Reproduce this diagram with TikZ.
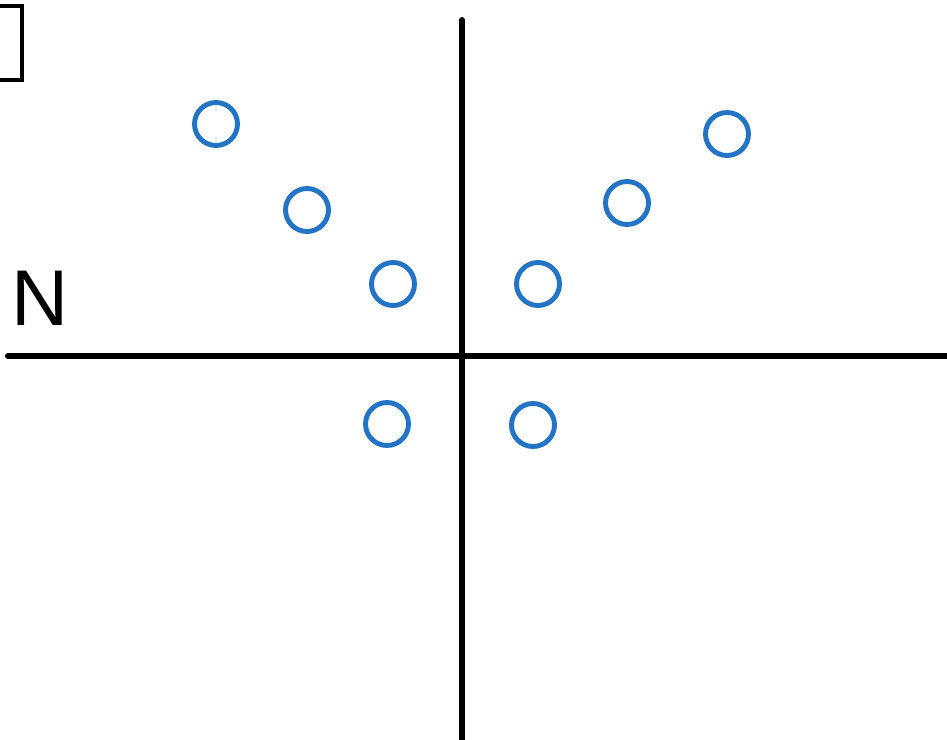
\documentclass[tikz,border=0pt]{standalone}
\usepackage{fontspec}
\setmainfont{Liberation Sans}
\usepackage{xcolor}
\usepackage{tikz}
\definecolor{ptblue}{RGB}{36,116,198}

\begin{document}
\begin{tikzpicture}[
    x=0.02cm, y=-0.02cm,
    axis/.style={line width=3.4pt, draw=black, line cap=round},
    point/.style={circle, draw=ptblue, line width=2.8pt, minimum size=0.86cm, inner sep=0pt},
    marker/.style={rectangle, draw=black, line width=2.8pt, minimum width=1.2cm, minimum height=1.48cm, inner sep=0pt},
]
\useasboundingbox (0,0) rectangle (947,740);
\clip (0,0) rectangle (947,740);

% Axes
\coordinate (left) at (8,356);
\coordinate (right) at (960,356);
\coordinate (top) at (462,20);
\coordinate (bottom) at (462,760);
\draw[axis] (left) -- (right);
\draw[axis] (top) -- (bottom);

% Label
\node[font=\fontsize{45}{45}\selectfont, inner sep=0pt, anchor=base west] (lab) at (11,325) {N};
\node[marker] (box) at (-8,43) {};

% Points above
\node[point] (p1) at (216,124) {};
\node[point] (p2) at (307,210) {};
\node[point] (p3) at (393,284) {};
\node[point] (p4) at (538,284) {};
\node[point] (p5) at (627,203) {};
\node[point] (p6) at (727,134) {};

% Points below
\node[point] (p7) at (387,424) {};
\node[point] (p8) at (533,425) {};
\end{tikzpicture}
\end{document}
